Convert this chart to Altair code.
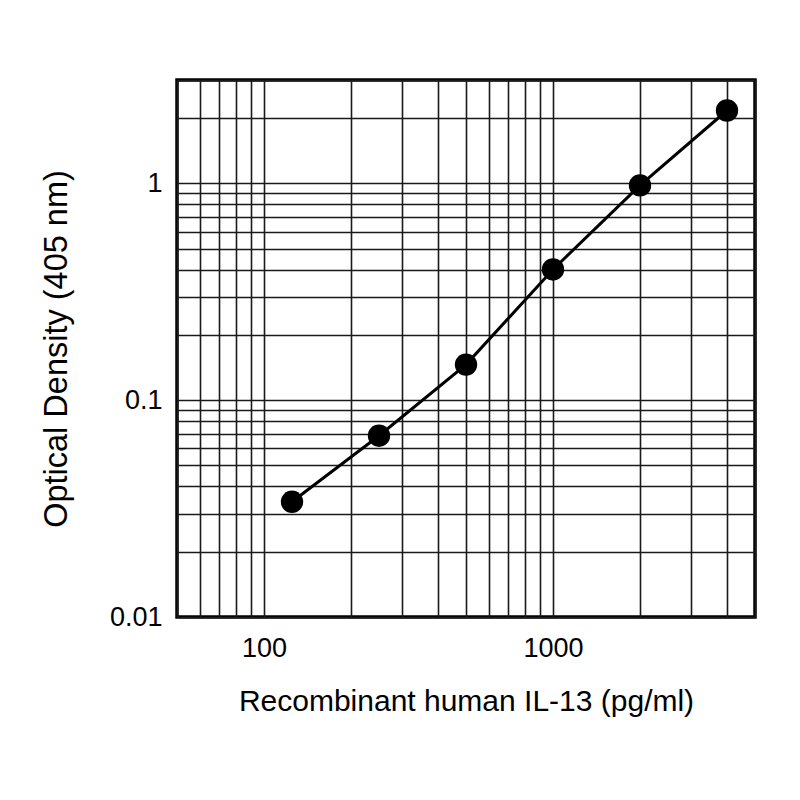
import altair as alt
import pandas as pd

# standard curve readings
conc = [125, 250, 500, 1000, 2000, 4000]
od = [0.034, 0.0686, 0.146, 0.401, 0.979, 2.17]

# grid positions (log decades)
x_grid = [50, 60, 70, 80, 90, 100, 200, 300, 400, 500, 600, 700, 800, 900,
          1000, 2000, 3000, 4000, 5000]
y_grid = [0.01, 0.02, 0.03, 0.04, 0.05, 0.06, 0.07, 0.08, 0.09,
          0.1, 0.2, 0.3, 0.4, 0.5, 0.6, 0.7, 0.8, 0.9, 1, 2, 3]

df = pd.DataFrame({"conc": conc, "od": od})

FONT = "Liberation Sans"

x_enc = alt.X("conc:Q").scale(type="log", domain=[50, 5000], nice=False).axis(
    values=x_grid,
    labelExpr="datum.value == 100 || datum.value == 1000 ? format(datum.value, 'd') : ''",
    ticks=False, domain=False, grid=True,
    gridColor="#1a1a1a", gridWidth=1.6,
    labelFontSize=27, labelPadding=18, labelColor="black", labelFont=FONT,
    labelFlush=False, labelOverlap=False,
    titleFontSize=30, titleFontWeight="normal", titleFont=FONT, titleColor="black",
    titlePadding=25,
).title("Recombinant human IL-13 (pg/ml)")

y_enc = alt.Y("od:Q").scale(type="log", domain=[0.01, 3], nice=False).axis(
    values=y_grid,
    labelExpr="datum.value == 0.01 ? '0.01' : datum.value == 0.1 ? '0.1' : datum.value == 1 ? '1' : ''",
    ticks=False, domain=False, grid=True,
    gridColor="#1a1a1a", gridWidth=1.6,
    labelFontSize=27, labelPadding=15, labelColor="black", labelFont=FONT,
    labelFlush=False, labelOverlap=False,
    titleFontSize=32.5, titleFontWeight="normal", titleFont=FONT, titleColor="black",
    titlePadding=36,
).title("Optical Density (405 nm)")

base = alt.Chart(df).encode(x=x_enc, y=y_enc)

line = base.mark_line(color="black", strokeWidth=3)
dots = base.mark_circle(color="black", size=500, opacity=1)

chart = (line + dots).properties(
    width=578,
    height=537,
    autosize=alt.AutoSizeParams(type="none"),
    padding={"left": 169, "top": 72, "right": 30, "bottom": 110},
).configure_view(
    stroke="black", strokeWidth=3.5
)

chart.save("out.html", embed_options={"renderer": "svg", "actions": False})
